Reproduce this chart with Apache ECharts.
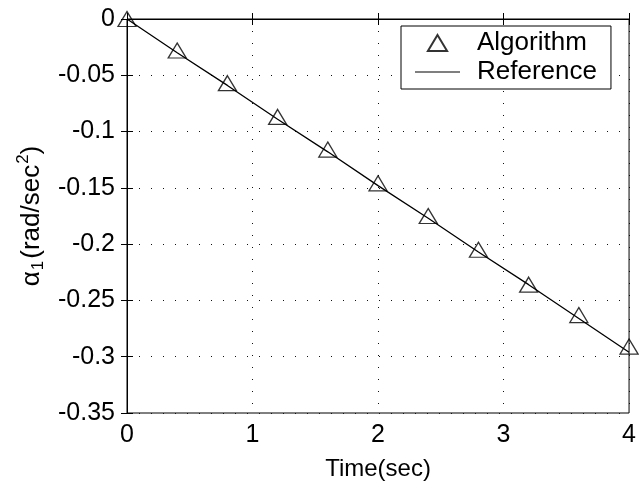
<!DOCTYPE html>
<html>
<head>
<meta charset="utf-8">
<script src="https://cdn.jsdelivr.net/npm/echarts@6/dist/echarts.min.js"></script>
<style>
  html, body { margin: 0; padding: 0; background: #fff; }
  #chart { width: 639px; height: 486px; }
</style>
</head>
<body>
<div id="chart"></div>
<script>
// values
var times = [0, 0.4, 0.8, 1.2, 1.6, 2.0, 2.4, 2.8, 3.2, 3.6, 4.0];
var algorithm = [0, -0.028, -0.057, -0.087, -0.116, -0.146, -0.175, -0.205, -0.236, -0.263, -0.291];
var reference = [0, -0.030, -0.059, -0.089, -0.118, -0.148, -0.177, -0.207, -0.236, -0.266, -0.296];

function pairs(xs, ys) {
    return xs.map(function (x, i) { return [x, ys[i]]; });
}

var font = 'Liberation Sans, Arial, Helvetica, sans-serif';

var myChart = echarts.init(document.getElementById('chart'));

var option = {
    backgroundColor: '#fff',
    animation: false,
    textStyle: { fontFamily: font },
    grid: {
        left: 127, right: 6, top: 19, bottom: 72,
        show: true, borderColor: '#000', borderWidth: 1
    },
    legend: {
        orient: 'vertical',
        left: 401, top: 26,
        backgroundColor: '#fff',
        borderColor: '#000', borderWidth: 1,
        padding: [4, 14, 4, 14],
        itemGap: 3,
        itemWidth: 45, itemHeight: 16,
        symbolKeepAspect: true,
        textStyle: { fontSize: 26, color: '#000', fontFamily: font, padding: [0, 0, 0, 12] },
        data: [
            { name: 'Algorithm', icon: 'path://M9,0 L18,15 L0,15 Z' },
            { name: 'Reference', icon: 'path://M0,7.4 L45,7.4 L45,8.6 L0,8.6 Z' }
        ]
    },
    xAxis: [{
        type: 'value', min: 0, max: 4, interval: 1,
        name: 'Time(sec)', nameLocation: 'middle', nameGap: 44,
        nameTextStyle: { fontSize: 24, color: '#000', fontFamily: font },
        axisLine: { lineStyle: { color: '#000' } },
        axisTick: { inside: true, length: 6, lineStyle: { color: '#000' } },
        axisLabel: { fontSize: 25, color: '#000', margin: 10 },
        splitLine: { show: true, lineStyle: { color: '#111', type: [1, 11], width: 1 } }
    }, {
        type: 'value', min: 0, max: 4, interval: 1, position: 'top',
        axisLine: { show: false },
        axisTick: { inside: true, length: 6, lineStyle: { color: '#000' } },
        axisLabel: { show: false }, splitLine: { show: false }
    }],
    yAxis: [{
        type: 'value', min: -0.35, max: 0, interval: 0.05,
        name: '{a|α}{s|1}{a|(rad/sec}{p|2}{a|)}',
        nameLocation: 'middle', nameGap: 78, nameRotate: 90,
        nameTextStyle: {
            fontSize: 26, color: '#000', fontFamily: font,
            rich: {
                a: { fontSize: 26, fontFamily: font, color: '#000' },
                s: { fontSize: 17, fontFamily: font, color: '#000', padding: [14, 2, 0, 1] },
                p: { fontSize: 17, fontFamily: font, color: '#000', padding: [0, 0, 16, 1] }
            }
        },
        axisLine: { show: true, lineStyle: { color: '#000' } },
        axisTick: { inside: true, length: 6, lineStyle: { color: '#000' } },
        axisLabel: {
            fontSize: 25, color: '#000', margin: 12,
            formatter: function (v) { return String(+v.toFixed(2)); }
        },
        splitLine: { show: true, lineStyle: { color: '#111', type: [1, 11], width: 1 } }
    }, {
        type: 'value', min: -0.35, max: 0, interval: 0.05, position: 'right',
        axisLine: { show: false },
        axisTick: { show: true, inside: true, length: 6, lineStyle: { color: '#000' } },
        axisLabel: { show: false }, splitLine: { show: false }
    }],
    series: [{
        name: 'Reference',
        type: 'line',
        data: pairs(times, reference),
        symbol: 'none',
        lineStyle: { color: '#000', width: 1.3 },
        itemStyle: { color: '#000' },
        z: 2
    }, {
        name: 'Algorithm',
        type: 'scatter',
        data: pairs(times, algorithm),
        symbol: 'triangle',
        symbolSize: [18, 15],
        itemStyle: { color: 'rgba(255,255,255,0)', borderColor: '#000', borderWidth: 1.3 },
        z: 3
    }]
};
myChart.setOption(option);
</script>
</body>
</html>
